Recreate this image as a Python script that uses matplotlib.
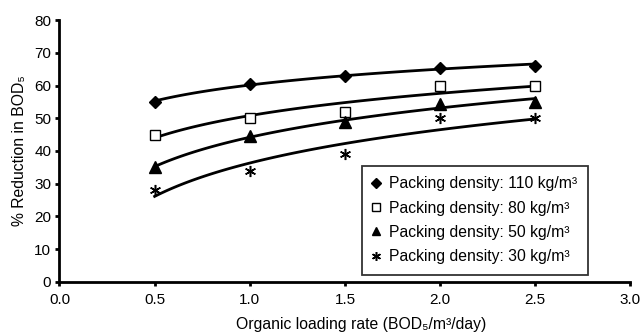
import numpy as np
import matplotlib
matplotlib.use('Agg')
import matplotlib.pyplot as plt

plt.rcParams['font.family'] = ['Liberation Sans', 'DejaVu Sans']

# organic loading rate (kg BOD5/m3/day)
olr = [0.5, 1.0, 1.5, 2.0, 2.5]

# % reduction in BOD5 per packing density
red_110 = [55, 60.5, 63, 65.5, 66]
red_80 = [45, 50, 52, 60, 60]
red_50 = [35, 44.5, 49, 54.5, 55]
red_30 = [28, 34, 39, 50, 50]

labels = ['Packing density: 110 kg/m³', 'Packing density: 80 kg/m³',
          'Packing density: 50 kg/m³', 'Packing density: 30 kg/m³']

fig = plt.figure(figsize=(6.43, 3.34), dpi=100)
ax = fig.add_axes([0.0925, 0.156, 0.888, 0.784])

series = [red_110, red_80, red_50, red_30]
styles = [dict(marker='D', mfc='black', ms=6),
          dict(marker='s', mfc='white', ms=6.5),
          dict(marker='^', mfc='black', ms=8),
          dict(marker=(6, 2, 0), mfc='black', ms=8, mew=1.1)]

xs = np.linspace(min(olr), max(olr), 100)
for y, st, lab in zip(series, styles, labels):
    # logarithmic trend line, as in the spreadsheet
    b, a = np.polyfit(np.log(olr), y, 1)
    ax.plot(xs, a + b * np.log(xs), color='black', lw=2.0, zorder=2)
    ax.plot(olr, y, ls='none', color='black', mec='black', label=lab, zorder=3, **st)

ax.set_xlim(0, 3.0)
ax.set_ylim(0, 80)
ax.set_xticks(np.arange(0, 3.01, 0.5))
ax.set_yticks(np.arange(0, 81, 10))
ax.set_xticklabels(['%.1f' % v for v in np.arange(0, 3.01, 0.5)])
for s in ['top', 'right']:
    ax.spines[s].set_visible(False)
for s in ['left', 'bottom']:
    ax.spines[s].set_linewidth(2.0)
ax.tick_params(direction='out', length=3, width=2.0, labelsize=11)
ax.tick_params(axis='x', pad=5)
ax.tick_params(axis='y', pad=3)

ax.set_xlabel('Organic loading rate (BOD₅/m³/day)', fontsize=11.3, labelpad=7)
ax.xaxis.set_label_coords(0.529, -0.135)
ax.set_ylabel('% Reduction in BOD₅', fontsize=11.3, labelpad=5)

leg = ax.legend(loc='lower right', bbox_to_anchor=(0.939, -0.002), fontsize=11.3,
                frameon=True, fancybox=False, handlelength=0.5, handletextpad=0.6,
                borderpad=0.65, labelspacing=0.6, markerscale=0.8)
leg.get_frame().set_edgecolor('black')
leg.get_frame().set_linewidth(1.3)

fig.savefig('out.png', dpi=100)
